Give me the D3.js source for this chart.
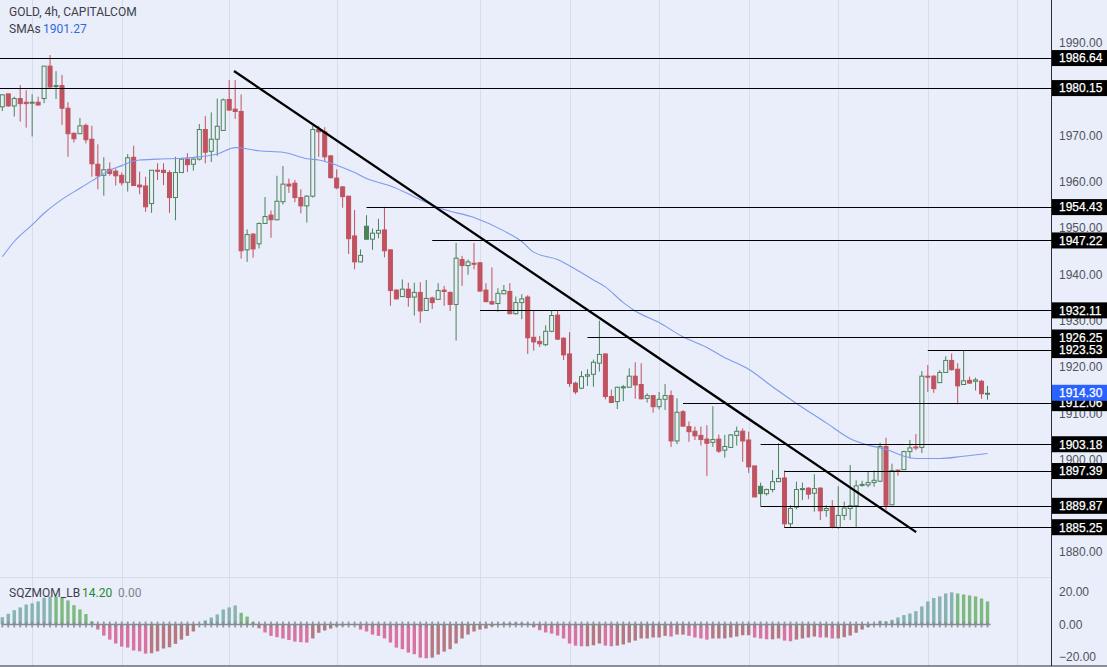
<!DOCTYPE html>
<html>
<head>
<meta charset="utf-8">
<style>
  html, body { margin: 0; padding: 0; background: #e9eefa; }
  svg { display: block; font-family: "Liberation Sans", Arial, sans-serif; }
</style>
<script src="https://d3js.org/d3.v7.min.js"></script>
</head>
<body>
<div id="chart"></div>
<script>
var opens = [
  1976.2,1979.0,1976.4,1978.0,1977.2,1977.0,1977.2,1978.0,1985.0,1980.6,
  1980.8,1975.9,1970.5,1970.4,1972.2,1969.2,1963.8,1961.4,1962.7,1962.3,
  1961.4,1959.9,1965.3,1959.3,1959.1,1955.3,1962.5,1962.5,1962.0,1956.6,
  1962.0,1964.9,1963.8,1964.9,1971.3,1966.6,1969.2,1971.1,1977.8,1975.7,
  1975.2,1945.3,1948.7,1946.6,1951.0,1952.8,1951.8,1955.7,1959.5,1959.7,
  1956.6,1954.8,1956.9,1971.3,1970.8,1965.6,1960.8,1958.9,1956.9,1948.3,
  1942.7,1950.4,1947.6,1948.9,1949.6,1945.3,1936.6,1935.2,1936.8,1935.1,
  1936.1,1932.2,1934.9,1934.6,1936.6,1936.1,1933.5,1943.2,1941.9,1942.4,
  1942.5,1936.6,1934.1,1933.7,1935.8,1936.3,1931.5,1933.9,1935.1,1926.4,
  1925.5,1924.8,1927.7,1931.2,1926.2,1922.8,1916.5,1915.4,1918.0,1918.4,
  1920.8,1922.8,1913.6,1912.5,1915.6,1915.6,1918.0,1916.2,1913.2,1913.8,
  1911.4,1913.0,1913.8,1904.0,1910.3,1907.1,1906.1,1905.2,1904.4,1903.7,
  1904.4,1902.0,1902.6,1905.2,1906.1,1904.2,1898.6,1894.2,1892.6,1893.5,
  1895.2,1896.0,1886.1,1889.7,1893.6,1893.8,1892.7,1893.8,1889.0,1889.6,
  1885.3,1887.9,1889.4,1890.0,1894.4,1894.5,1895.0,1895.3,1902.8,1890.2,
  1897.7,1897.8,1901.7,1902.7,1902.6,1918.0,1918.0,1916.6,1918.8,1921.4,
  1919.5,1916.2,1917.1,1916.9,1916.9,1914.2
];
var closes = [
  1978.8,1976.4,1978.0,1976.9,1976.9,1977.2,1976.6,1985.0,1980.5,1980.8,
  1975.9,1970.4,1969.3,1972.1,1969.1,1963.9,1961.3,1962.6,1961.8,1961.3,
  1959.8,1965.2,1959.2,1958.9,1954.6,1962.5,1962.3,1962.0,1956.6,1962.0,
  1964.9,1963.7,1964.9,1971.3,1966.4,1969.2,1972.0,1977.7,1975.5,1975.2,
  1945.1,1948.6,1945.5,1951.0,1952.5,1951.8,1955.8,1959.5,1959.1,1956.6,
  1954.8,1956.9,1971.3,1970.8,1965.4,1960.9,1958.7,1956.8,1947.7,1942.7,
  1944.1,1947.6,1948.9,1949.5,1945.1,1936.5,1934.7,1936.8,1935.0,1936.1,
  1932.1,1934.8,1933.9,1936.5,1936.3,1933.5,1943.5,1941.9,1942.7,1942.3,
  1936.4,1934.1,1933.6,1935.9,1936.5,1931.5,1933.9,1934.7,1926.3,1925.4,
  1925.0,1927.7,1931.1,1926.0,1922.6,1916.4,1914.6,1917.9,1918.3,1921.0,
  1922.7,1913.6,1912.3,1915.6,1915.7,1918.0,1916.1,1913.1,1913.8,1911.4,
  1913.0,1913.8,1904.0,1910.2,1907.2,1906.0,1905.1,1904.3,1903.5,1904.3,
  1901.8,1902.8,1905.3,1906.1,1904.0,1898.4,1891.9,1892.6,1893.5,1895.2,
  1895.9,1886.1,1889.4,1893.5,1893.7,1892.5,1893.7,1888.9,1889.4,1885.3,
  1887.9,1889.5,1890.0,1894.3,1894.6,1895.0,1895.5,1902.8,1890.1,1897.6,
  1897.5,1901.7,1902.5,1902.5,1918.0,1917.9,1915.3,1918.8,1921.4,1919.4,
  1915.9,1917.0,1916.5,1917.2,1914.2,1914.3
];
var highs = [
  1978.9,1979.0,1978.4,1980.9,1979.8,1978.9,1978.4,1985.0,1987.4,1983.9,
  1983.1,1977.2,1970.6,1973.8,1972.6,1972.1,1968.1,1965.3,1964.2,1962.9,
  1962.0,1966.0,1967.8,1962.2,1961.1,1962.5,1964.0,1964.0,1962.5,1965.4,
  1965.1,1966.2,1965.1,1972.5,1974.2,1975.0,1978.0,1978.0,1982.0,1982.0,
  1978.9,1949.7,1948.9,1951.2,1956.7,1953.8,1961.3,1963.4,1960.7,1960.4,
  1958.4,1957.1,1972.1,1972.1,1971.8,1965.8,1962.7,1959.1,1956.9,1953.9,
  1945.4,1952.8,1949.9,1952.0,1954.6,1945.3,1936.8,1938.9,1938.2,1938.2,
  1938.3,1938.8,1935.2,1938.1,1937.5,1936.3,1946.8,1944.0,1943.2,1946.8,
  1942.7,1938.1,1941.5,1937.0,1937.7,1938.1,1935.2,1935.7,1935.5,1932.1,
  1926.7,1929.0,1932.1,1932.1,1926.4,1927.5,1916.8,1919.1,1919.5,1921.6,
  1930.0,1922.9,1915.1,1915.7,1916.1,1919.7,1921.0,1920.8,1914.3,1913.9,
  1914.6,1916.3,1914.9,1913.2,1910.7,1908.2,1907.1,1907.1,1907.4,1911.5,
  1905.4,1905.3,1905.5,1907.1,1906.7,1906.0,1898.6,1895.0,1893.7,1897.7,
  1903.5,1897.6,1890.1,1895.2,1895.0,1894.0,1896.8,1894.0,1890.1,1891.2,
  1894.2,1890.9,1898.8,1895.5,1895.4,1897.5,1897.6,1903.6,1904.7,1899.1,
  1897.8,1901.9,1904.2,1905.5,1919.1,1920.4,1918.2,1919.3,1922.3,1922.9,
  1920.8,1923.5,1917.9,1917.7,1917.2,1915.9
];
var lows = [
  1975.3,1976.2,1974.1,1973.0,1971.7,1969.8,1976.5,1977.0,1980.3,1977.9,
  1972.3,1965.4,1968.5,1970.3,1968.3,1961.1,1958.4,1957.0,1961.3,1959.2,
  1959.2,1957.9,1959.2,1957.3,1953.5,1953.3,1960.4,1959.3,1953.3,1951.7,
  1962.0,1962.1,1962.4,1964.6,1964.0,1964.3,1965.6,1971.0,1975.4,1973.6,
  1943.4,1942.7,1943.6,1945.6,1950.9,1947.9,1951.7,1955.1,1957.6,1955.6,
  1953.2,1951.2,1956.6,1965.4,1964.4,1960.7,1958.4,1954.4,1944.4,1941.1,
  1942.6,1947.4,1945.3,1947.8,1943.7,1933.2,1934.6,1935.1,1933.0,1931.1,
  1929.5,1932.1,1932.5,1934.5,1933.2,1932.1,1925.7,1937.5,1939.9,1941.1,
  1936.2,1934.0,1933.4,1931.9,1935.7,1931.4,1931.3,1930.3,1922.8,1923.5,
  1924.3,1924.5,1927.5,1925.8,1921.5,1915.7,1914.1,1915.2,1915.9,1915.7,
  1919.0,1913.0,1912.2,1910.9,1912.6,1915.5,1913.1,1913.0,1912.3,1910.1,
  1910.8,1910.7,1902.7,1903.3,1907.1,1903.8,1904.2,1903.0,1896.4,1902.7,
  1901.4,1900.4,1902.5,1903.0,1899.5,1897.1,1891.9,1889.9,1892.2,1892.9,
  1895.1,1885.2,1885.2,1889.2,1891.2,1891.4,1888.7,1886.9,1887.6,1885.1,
  1885.0,1886.9,1886.9,1885.3,1894.1,1894.0,1894.1,1895.1,1889.1,1890.1,
  1896.5,1897.7,1900.2,1902.0,1901.4,1914.6,1914.4,1916.5,1918.7,1919.2,
  1911.9,1916.1,1916.4,1914.9,1913.1,1912.9
];
// candles drawn filled green in the hollow candle style
var solidGreen = [61, 127];

// SMA, candle index and value
var smaIdx = [0,2,5,7,10,13,15,18,20,22,23,26,30,33,36,39,40,43,47,51,53,56,59,61,65,68,70,74,79,84,87,89,93,96,99,101,104,106,110,114,118,121,122,125,129,133,138,142,145,148,151,153,157,161,165];
var smaVals = [1943.8,1947.1,1950.7,1953.2,1956.2,1958.6,1960.2,1962.5,1963.5,1964.5,1964.7,1964.9,1965.1,1965.4,1966.0,1967.4,1967.3,1966.7,1966.4,1965.0,1964.7,1963.6,1962.0,1960.7,1959.1,1957.4,1956.1,1954.0,1952.3,1949.4,1947.1,1944.8,1943.2,1941.1,1938.8,1937.3,1933.9,1932.1,1929.6,1926.5,1924.2,1922.0,1921.4,1919.5,1915.7,1912.1,1907.9,1904.5,1903.1,1902.2,1900.7,1900.2,1900.2,1900.7,1901.27];

var momentum = [
  4.5,6.6,8.8,10.5,12.3,13.0,14.2,16.5,17.3,17.1,
  16.3,14.8,11.9,9.3,6.4,1.9,-3.1,-6.8,-9.3,-11.7,
  -13.6,-14.2,-16.0,-16.5,-17.9,-17.7,-16.5,-14.8,-14.0,-11.9,
  -9.3,-7.0,-4.3,-0.4,2.5,4.3,6.2,9.3,10.5,11.7,
  7.2,4.9,1.6,-2.3,-4.9,-7.0,-7.8,-8.6,-9.5,-10.5,
  -10.9,-11.1,-8.6,-5.1,-3.7,-2.5,-1.2,-0.8,-0.4,-0.4,
  -3.1,-4.3,-6.2,-7.0,-8.6,-11.1,-14.2,-15.2,-17.3,-18.3,
  -20.4,-20.8,-20.4,-18.5,-16.7,-15.2,-11.7,-8.6,-6.2,-4.3,
  -3.1,-2.5,-1.2,0.3,0.8,1.0,1.2,1.0,0.6,-1.6,
  -3.5,-4.9,-5.6,-6.8,-8.6,-11.7,-13.0,-13.4,-13.4,-12.8,
  -11.7,-13.0,-13.4,-13.0,-12.3,-11.1,-9.9,-8.6,-8.6,-8.0,
  -8.0,-7.0,-7.4,-6.2,-6.2,-7.0,-8.0,-8.6,-9.3,-8.6,
  -8.6,-8.6,-8.0,-7.4,-6.6,-6.6,-8.0,-8.6,-9.1,-9.1,
  -8.6,-9.9,-10.3,-9.3,-8.6,-8.0,-7.4,-8.0,-8.0,-8.6,
  -8.6,-7.8,-6.8,-5.1,-3.1,-1.6,-0.4,2.3,1.9,2.9,
  4.3,5.8,6.8,8.2,11.1,14.2,16.3,17.3,19.1,19.8,
  19.1,18.5,17.9,17.3,16.0,14.2
];

// horizontal levels, price and the candle where the line starts
var levelPrices = [1986.64,1980.15,1954.43,1947.22,1932.11,1926.25,1923.53,1912.06,1903.18,1897.39,1889.87,1885.25];
var levelStarts = [-1,-1,61,72,80,98,155,114,127,131,127,131];

var trendIdx = [38.8, 153.05];
var trendPrice = [1983.95, 1884.3];

var priceTicks = [1990,1980,1970,1960,1950,1940,1930,1920,1910,1900,1890,1880];
var momTicks = [20,0,-20];
var gridIdx = [5,20,38,56,80,95,110,125,140,155,170];
var lastPrice = 1914.30;

var width = 1107, height = 667, axisX = 1052;
var bg = '#e9eefa', red = '#c1525f', green = '#4c8259';

var x = d3.scaleLinear().domain([0, 175.8]).range([2.3, axisX]);
var y = d3.scaleLinear().domain([1990, 1880]).range([43, 552]);
var yMom = d3.scaleLinear().domain([20, -20]).range([592, 657]);

var svg = d3.select('#chart').append('svg')
  .attr('width', width).attr('height', height);

svg.append('rect').attr('width', width).attr('height', height).attr('fill', bg);

// grid
svg.append('g').selectAll('line').data(gridIdx).enter().append('line')
  .attr('x1', function(d){ return Math.round(x(d)) + 0.5; })
  .attr('x2', function(d){ return Math.round(x(d)) + 0.5; })
  .attr('y1', 0).attr('y2', 666)
  .attr('stroke', '#d7dde8');

svg.append('line').attr('x1', 0).attr('x2', axisX).attr('y1', 577.5).attr('y2', 577.5)
  .attr('stroke', '#d7dde8');

// price and momentum axes
var priceAxis = d3.axisRight(y).tickValues(priceTicks).tickSize(0).tickPadding(7)
  .tickFormat(d3.format('.2f'));
var momAxis = d3.axisRight(yMom).tickValues(momTicks).tickSize(0).tickPadding(7)
  .tickFormat(function(d){ return d < 0 ? '\u2212' + d3.format('.2f')(-d) : d3.format('.2f')(d); });

[priceAxis, momAxis].forEach(function(a){
  var g = svg.append('g').attr('transform', 'translate(' + axisX + ',0)').call(a);
  g.select('.domain').remove();
  g.selectAll('text').attr('font-size', 12).attr('fill', '#50535e')
    .attr('font-family', '"Liberation Sans", Arial, sans-serif');
});

svg.append('line').attr('x1', axisX - 0.5).attr('x2', axisX - 0.5).attr('y1', 0).attr('y2', 666)
  .attr('stroke', '#2a2e39');
svg.append('line').attr('x1', 0).attr('x2', width).attr('y1', 666).attr('y2', 666)
  .attr('stroke', '#2a2e39');

// candles
var candles = opens.map(function(o, i){
  return { i: i, open: o, close: closes[i], high: highs[i], low: lows[i] };
});
var isGreen = function(d){ return d.close >= d.open || solidGreen.indexOf(d.i) >= 0; };
var isFilled = function(d){ return d.close < d.open; };

var cg = svg.append('g');
cg.selectAll('line').data(candles).enter().append('line')
  .attr('x1', function(d){ return x(d.i); })
  .attr('x2', function(d){ return x(d.i); })
  .attr('y1', function(d){ return y(d.high); })
  .attr('y2', function(d){ return y(d.low); })
  .attr('stroke', function(d){ return isGreen(d) ? green : red; })
  .attr('stroke-width', 1);

cg.selectAll('rect').data(candles).enter().append('rect')
  .attr('x', function(d){ return x(d.i) - 2; })
  .attr('width', 4)
  .attr('y', function(d){ return y(Math.max(d.open, d.close)); })
  .attr('height', function(d){ return Math.max(1, Math.abs(y(d.open) - y(d.close))); })
  .attr('fill', function(d){ return isFilled(d) ? (isGreen(d) ? green : red) : bg; })
  .attr('stroke', function(d){ return isGreen(d) ? green : red; })
  .attr('stroke-width', 1);

// SMA
var smaLine = d3.line()
  .x(function(d, i){ return x(smaIdx[i]); })
  .y(function(d){ return y(d); })
  .curve(d3.curveMonotoneX);
svg.append('path').attr('d', smaLine(smaVals))
  .attr('fill', 'none').attr('stroke', '#7f9aec').attr('stroke-width', 1.1);

// levels
svg.append('g').selectAll('line').data(levelPrices).enter().append('line')
  .attr('x1', function(d, i){ return x(levelStarts[i]); })
  .attr('x2', axisX)
  .attr('y1', function(d){ return Math.floor(y(d)) + 0.5; })
  .attr('y2', function(d){ return Math.floor(y(d)) + 0.5; })
  .attr('stroke', '#000').attr('stroke-width', 1);

// trend line
svg.append('line')
  .attr('x1', x(trendIdx[0])).attr('y1', y(trendPrice[0]))
  .attr('x2', x(trendIdx[1])).attr('y2', y(trendPrice[1]))
  .attr('stroke', '#000').attr('stroke-width', 2.3);

// price labels on the axis
function priceLabel(p, fillCol) {
  var g = svg.append('g').attr('transform', 'translate(' + axisX + ',' + (y(p) - 0.5) + ')');
  g.append('rect').attr('x', 0).attr('y', -8).attr('width', width - axisX).attr('height', 16)
    .attr('fill', fillCol);
  g.append('text').attr('x', 7).attr('dy', '0.36em').attr('font-size', 12)
    .attr('fill', '#fff').attr('stroke', '#fff').attr('stroke-width', 0.25)
    .text(p.toFixed(2));
}
levelPrices.forEach(function(p){ priceLabel(p, '#000'); });
priceLabel(lastPrice, '#2962ff');

// momentum histogram
var momColor = function(d, i){
  var prev = i > 0 ? momentum[i - 1] : d - 1;
  if (d >= 0) return d >= prev ? '#88b3b1' : '#7eba7f';
  return d < prev ? '#d8749f' : '#b57880';
};
svg.append('g').selectAll('rect').data(momentum).enter().append('rect')
  .attr('x', function(d, i){ return x(i) - 1.7; })
  .attr('width', 3.4)
  .attr('y', function(d){ return Math.min(yMom(d), yMom(0)); })
  .attr('height', function(d){ return Math.abs(yMom(d) - yMom(0)); })
  .attr('fill', momColor);

// squeeze markers along zero
svg.append('line').attr('x1', x(0)).attr('x2', x(momentum.length - 1) + 3)
  .attr('y1', yMom(0)).attr('y2', yMom(0))
  .attr('stroke', '#858a8e').attr('stroke-width', 1.4);
svg.append('g').selectAll('line').data(momentum).enter().append('line')
  .attr('x1', function(d, i){ return x(i); })
  .attr('x2', function(d, i){ return x(i); })
  .attr('y1', yMom(0) - 3).attr('y2', yMom(0) + 3)
  .attr('stroke', '#858a8e').attr('stroke-width', 1.8).attr('opacity', 0.85);

// legends
function legend(xp, yp, txt, col) {
  svg.append('text').attr('x', xp).attr('y', yp).attr('font-size', 12)
    .attr('font-family', 'Roboto, sans-serif')
    .attr('fill', col).text(txt);
}
legend(9, 16, 'GOLD, 4h, CAPITALCOM', '#3d4049');
legend(9, 33, 'SMAs', '#3d4049');
legend(43, 33, d3.format('.2f')(smaVals[smaVals.length - 1]), '#2f6ae0');
legend(9, 597, 'SQZMOM_LB', '#3d4049');
legend(82, 597, d3.format('.2f')(momentum[momentum.length - 1]), '#1f8a2c');
legend(118, 597, '0.00', '#808489');
</script>
</body>
</html>
